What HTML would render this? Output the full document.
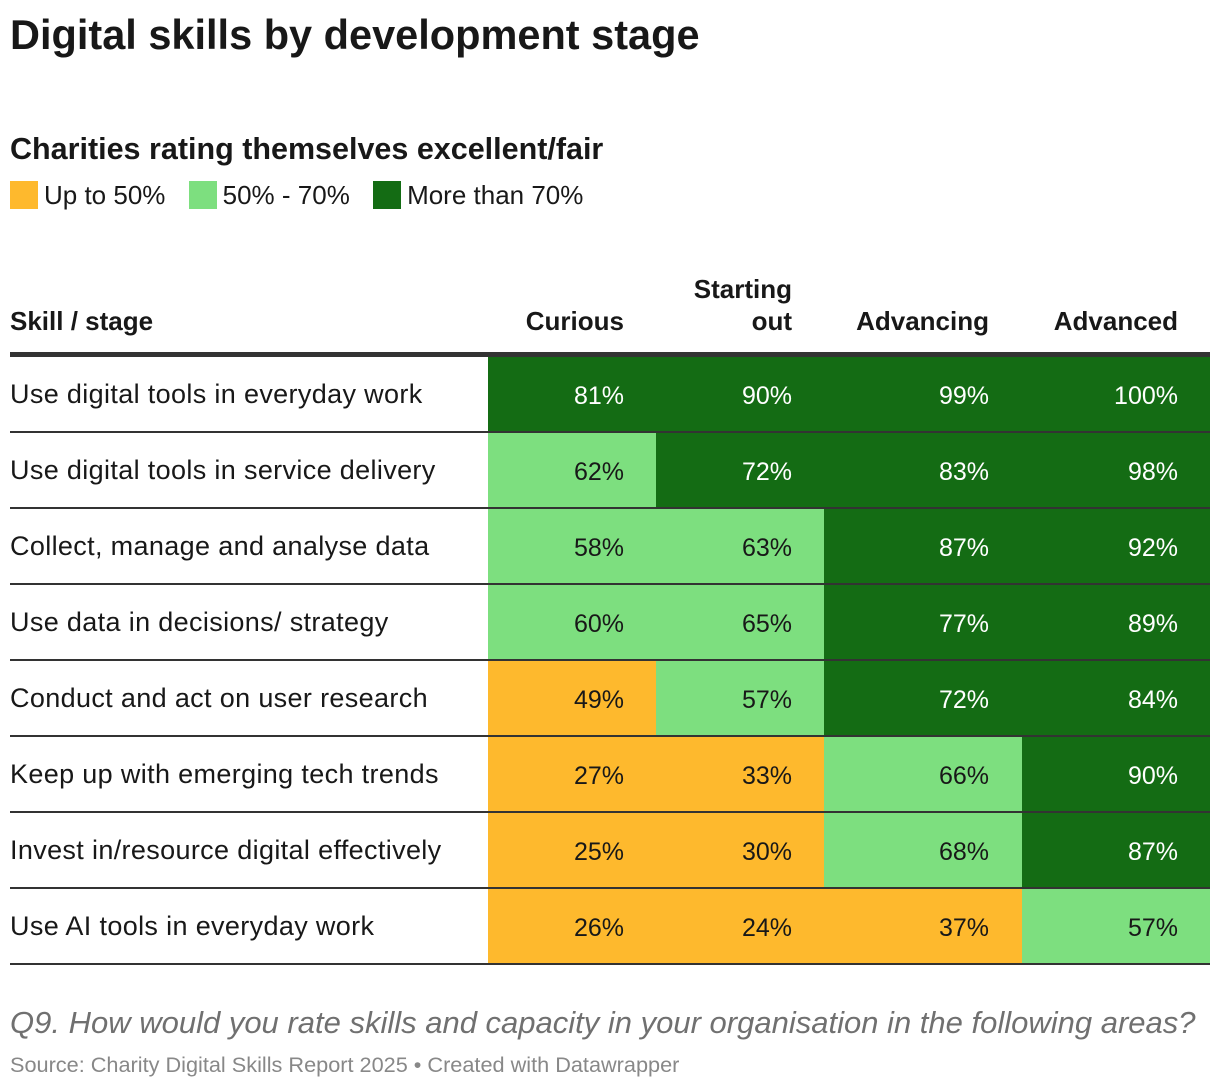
<!DOCTYPE html>
<html><head><meta charset="utf-8"><style>
body{margin:0;width:1220px;height:1088px;background:#fff;font-family:"Liberation Sans",sans-serif;color:#181818;position:relative;overflow:hidden}
.abs{position:absolute;white-space:nowrap}
.sw{display:inline-block;width:28px;height:28px;vertical-align:-5px;margin-right:6px}
.cell{position:absolute;color:#fff;font-size:25px;text-align:right;box-sizing:border-box}
.lab{position:absolute;left:10px;font-size:27px;letter-spacing:0.35px;white-space:nowrap}
.sep{position:absolute;left:10px;width:1200px;height:2px;background:#333}
.hd{position:absolute;font-size:26px;font-weight:bold;text-align:right;line-height:32px}
</style></head><body>
<div class="abs" style="left:10px;top:11px;font-size:41.5px;font-weight:bold">Digital skills by development stage</div>
<div class="abs" style="left:10px;top:132px;font-size:30.5px;font-weight:bold">Charities rating themselves excellent/fair</div>
<div class="abs" style="left:10px;top:180px;font-size:26px">
<span><span class="sw" style="background:#feb92d"></span>Up to 50%</span>
<span style="margin-left:16px"><span class="sw" style="background:#7ddf7f"></span>50% - 70%</span>
<span style="margin-left:16px"><span class="sw" style="background:#146c14"></span>More than 70%</span>
</div>
<div class="hd" style="left:10px;top:305px;text-align:left">Skill / stage</div>
<div class="hd" style="left:488px;width:136px;top:305px">Curious</div>
<div class="hd" style="left:656px;width:136px;top:273px">Starting<br>out</div>
<div class="hd" style="left:824px;width:165px;top:305px">Advancing</div>
<div class="hd" style="left:1022px;width:156px;top:305px">Advanced</div>
<div class="abs" style="left:10px;top:352px;width:1200px;height:5px;background:#333"></div>
<div id="tbl"></div>
<div class="abs" style="left:10px;top:1005px;font-size:31px;font-style:italic;color:#707070">Q9. How would you rate skills and capacity in your organisation in the following areas?</div>
<div class="abs" style="left:10px;top:1052px;font-size:21.7px;color:#888">Source: Charity Digital Skills Report 2025 • Created with Datawrapper</div>
<script>
const skills=["Use digital tools in everyday work","Use digital tools in service delivery","Collect, manage and analyse data","Use data in decisions/ strategy","Conduct and act on user research","Keep up with emerging tech trends","Invest in/resource digital effectively","Use AI tools in everyday work"];
const curious=[81,62,58,60,49,27,25,26];
const startingOut=[90,72,63,65,57,33,30,24];
const advancing=[99,83,87,77,72,66,68,37];
const advanced=[100,98,92,89,84,90,87,57];
const cols=[[curious,488,168,32],[startingOut,656,168,32],[advancing,824,198,33],[advanced,1022,188,32]];
const names=["curious","starting-out","advancing","advanced"];
const t=document.getElementById('tbl');
function col(v){return v<50?"#feb92d":(v<=70?"#7ddf7f":"#146c14");}
skills.forEach((s,i)=>{
 const top=357+i*76;
 const l=document.createElement('div');l.className='lab';l.textContent=s;
 l.style.top=(top+22)+'px';
 
 
 t.appendChild(l);
 cols.forEach((c,j)=>{
  const v=c[0][i];const d=document.createElement('div');d.className='cell';
  d.style.left=c[1]+'px';d.style.width=c[2]+'px';d.style.top=top+'px';d.style.height='74px';
  d.style.lineHeight='78px';d.style.paddingRight=c[3]+'px';d.style.background=col(v);
  d.style.color=v<=70?'#181818':'#fff';
  d.textContent=v+'%';
  
  
  t.appendChild(d);
 });
 const r=document.createElement('div');r.className='sep';r.style.top=(top+74)+'px';
 
 
 t.appendChild(r);
});
</script>
</body></html>
